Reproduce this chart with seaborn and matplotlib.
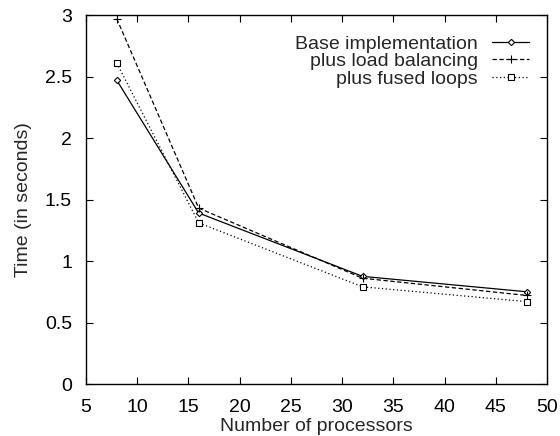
import matplotlib
matplotlib.use("Agg")
import matplotlib.pyplot as plt
import seaborn as sns
import pandas as pd

processors = [8, 16, 32, 48]
base_impl = [2.47, 1.39, 0.875, 0.75]
load_bal = [2.97, 1.43, 0.86, 0.72]
fused_loops = [2.61, 1.31, 0.79, 0.67]
series_names = ["Base implementation", "plus load balancing", "plus fused loops"]

sns.set_theme(style="ticks")
plt.rcParams['font.family'] = ['Liberation Sans', 'DejaVu Sans']

df = pd.DataFrame({
    "x": processors * 3,
    "y": base_impl + load_bal + fused_loops,
    "series": [series_names[0]] * 4 + [series_names[1]] * 4 + [series_names[2]] * 4,
})

fig = plt.figure(figsize=(5.6, 4.36), dpi=100)
ax = fig.add_axes([86/560, 52/436, (547-86)/560, (384-15)/436])

styles = {
    series_names[0]: dict(ls="-", marker="D", ms=3.2, mfc="white"),
    series_names[1]: dict(ls=(0, (3.5, 2)), marker="+", ms=5.5, mfc="none"),
    series_names[2]: dict(ls=(0, (1, 2)), marker="s", ms=4.5, mfc="white"),
}
for name in series_names:
    sub = df[df["series"] == name]
    st = styles[name]
    sns.lineplot(data=sub, x="x", y="y", ax=ax, color="black", lw=0.9,
                 linestyle=st["ls"], marker=st["marker"], markersize=st["ms"],
                 markerfacecolor=st["mfc"], markeredgecolor="black",
                 markeredgewidth=0.8, label=name)

ax.set_xlim(5, 50)
ax.set_ylim(0, 3)
ax.set_xticks([5, 10, 15, 20, 25, 30, 35, 40, 45, 50])
ax.set_yticks([0, 0.5, 1, 1.5, 2, 2.5, 3])
ax.set_yticklabels(["0", "0.5", "1", "1.5", "2", "2.5", "3"])
ax.tick_params(direction="in", top=True, right=True, length=5, width=0.8,
               labelsize=14, colors="black")
ax.tick_params(axis="x", pad=11)
ax.tick_params(axis="y", pad=10)
for s in ax.spines.values():
    s.set_linewidth(1.0)
    s.set_color("black")
ax.set_xlabel("Number of processors", fontsize=14, labelpad=1)
ax.set_ylabel("Time (in seconds)", fontsize=14, labelpad=9)

leg = ax.legend(loc="upper right", bbox_to_anchor=(1.009, 1.005),
                frameon=False, markerfirst=False,
                fontsize=14, handlelength=1.9, labelspacing=0.0,
                borderaxespad=0.72, handletextpad=0.75)
for t in leg.get_texts():
    t.set_ha("right")
leg._legend_box.align = "right"

fig.savefig("out.png", dpi=100)
